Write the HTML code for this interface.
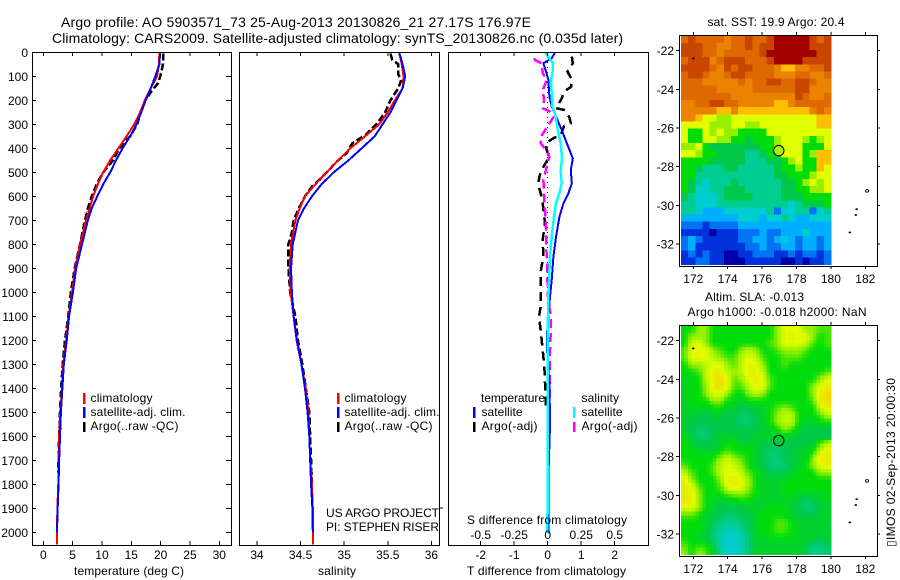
<!DOCTYPE html>
<html lang="en">
<head>
<meta charset="utf-8">
<title>Argo profile 5903571_73</title>
<style>
html,body{margin:0;padding:0;background:#fff;}
svg{display:block;}
text{font-family:"Liberation Sans",sans-serif;font-size:12px;fill:#000;}
.big{font-size:14px;}
</style>
</head>
<body>
<svg id="figure" xmlns="http://www.w3.org/2000/svg" width="900" height="580" viewBox="0 0 900 580">
<rect x="0" y="0" width="900" height="580" fill="#fff"/>
<text class="big" x="61" y="27" textLength="470">Argo profile: AO 5903571_73 25-Aug-2013 20130826_21 27.17S 176.97E</text>
<text class="big" x="52" y="43" textLength="571">Climatology: CARS2009. Satellite-adjusted climatology: synTS_20130826.nc (0.035d later)</text>

<g id="mapSst"></g>
<g id="mapSla"></g>
<g id="panelT"></g>
<g id="panelS"></g>
<g id="panelD"></g>

<text x="74" y="575" textLength="110">temperature (deg C)</text>
<text x="318" y="575" textLength="38">salinity</text>
<text x="467" y="575" textLength="159">T difference from climatology</text>
<text x="467" y="524" textLength="160">S difference from climatology</text>

<g>
<rect x="83" y="393" width="2.5" height="11" fill="#f00"/>
<rect x="83" y="407" width="2.5" height="11" fill="#00f"/>
<rect x="83" y="422" width="2.5" height="10" fill="#000"/>
<text x="90.5" y="402" textLength="62">climatology</text>
<text x="90.5" y="416" textLength="95">satellite-adj. clim.</text>
<text x="90.5" y="430" textLength="88">Argo(..raw -QC)</text>
</g>
<g>
<rect x="337" y="393" width="2.5" height="11" fill="#f00"/>
<rect x="337" y="407" width="2.5" height="11" fill="#00f"/>
<rect x="337" y="422" width="2.5" height="10" fill="#000"/>
<text x="344.5" y="402" textLength="62">climatology</text>
<text x="344.5" y="416" textLength="95">satellite-adj. clim.</text>
<text x="344.5" y="430" textLength="88">Argo(..raw -QC)</text>
</g>
<g>
<text x="481" y="402" textLength="64">temperature</text>
<rect x="473" y="407" width="2.5" height="11" fill="#00f"/>
<text x="481.5" y="416" textLength="41">satellite</text>
<rect x="473" y="422" width="2.5" height="10" fill="#000"/>
<text x="481.5" y="430" textLength="56">Argo(-adj)</text>
<text x="581.5" y="402" textLength="37.5">salinity</text>
<rect x="573" y="407" width="2.5" height="11" fill="#0ff"/>
<text x="581.5" y="416" textLength="41">satellite</text>
<rect x="573" y="422" width="2.5" height="10" fill="#f0f"/>
<text x="581.5" y="430" textLength="56">Argo(-adj)</text>
</g>

<text x="326" y="517" textLength="113">US ARGO PROJECT</text>
<text x="326" y="531" textLength="113">PI: STEPHEN RISER</text>
<line x1="439" x2="443" y1="508" y2="508" stroke="#000" stroke-width="1" shape-rendering="crispEdges"/>

<text x="707.5" y="26" textLength="137">sat. SST: 19.9 Argo: 20.4</text>
<text x="705" y="301" textLength="99">Altim. SLA: -0.013</text>
<text x="687.5" y="316" textLength="179">Argo h1000: -0.018 h2000: NaN</text>
<text transform="translate(895,547) rotate(-90)" x="0" y="0" textLength="169">▯IMOS 02-Sep-2013 20:00:30</text>
</svg>

<script>
// ---- profile data (depth in m, temperature in deg C, salinity in psu) ----
const stdDepth = [0,50,100,150,200,250,300,350,400,450,500,550,600,650,700,800,900,1000,1100,1200,1300,1400,1500,1600,1700,1800,1900,2000,2050];

const tempClim = [19.8,19.7,19.4,18.3,17.3,16.5,15.5,14.2,12.8,11.4,10.2,9.3,8.5,7.9,7.3,6.25,5.45,4.9,4.3,3.9,3.4,3.2,2.9,2.7,2.6,2.55,2.4,2.33,2.3];
const tempSat = [19.9,19.8,19.1,18.3,17.45,16.7,15.9,14.8,13.5,12.4,11.4,10.2,9.2,8.25,7.6,6.6,5.6,5.05,4.4,4,3.5,3.25,3,2.85,2.7,2.6,2.45,2.33];
const tempArgoDepth = [5,50,100,130,160,200,250,300,350,400,450,500,550,600,650,700,800,900,1000,1100,1200,1300,1400,1500,1600,1700,1750];
const tempArgo = [20.45,20.4,19.95,19.5,18.5,17.4,16.6,16,14.8,12.95,11.9,10.2,9.1,8.25,7.6,7.1,6.25,5.35,4.7,4.25,3.7,3.3,3.05,2.85,2.7,2.6,2.55];

const salClim = [35.63,35.66,35.68,35.67,35.58,35.5,35.40,35.24,35.07,34.93,34.8,34.67,34.55,34.49,34.44,34.39,34.375,34.385,34.42,34.46,34.51,34.56,34.59,34.6,34.61,34.63,34.64,34.645,34.645];
const salSat = [35.63,35.67,35.7,35.67,35.6,35.53,35.44,35.35,35.2,35.05,34.88,34.74,34.63,34.54,34.47,34.41,34.39,34.4,34.42,34.455,34.51,34.55,34.58,34.6,34.61,34.62,34.635,34.64];
const salArgoDepth = [5,30,50,90,120,150,200,250,300,340,380,420,450,500,530,560,600,650,700,750,800,900,1000,1100,1200,1300,1400,1500,1600,1700,1800];
const salArgo = [35.53,35.55,35.62,35.62,35.65,35.62,35.53,35.47,35.37,35.26,35.09,35.03,34.93,34.8,34.72,34.63,34.55,34.48,34.42,34.4,34.36,34.36,34.38,34.44,34.47,34.52,34.56,34.6,34.61,34.62,34.63];

const diffDepth = [0,25,46,80,115,185,226,268,324,379,442,490,546,587,629,685,768,851,949,1018,1171,1240,1379,1546,1726,2004];
const diffTSat = [0.22,0.12,-0.13,-0.05,0.02,0.05,0.12,0.25,0.42,0.57,0.75,0.69,0.72,0.62,0.47,0.35,0.25,0.17,0.12,0.07,-0.02,-0.02,0.05,0.07,0.03,0.03];
const diffSSat = [-0.02,0.012,0.04,0.037,0.025,0.03,0.035,0.06,0.075,0.097,0.107,0.097,0.104,0.087,0.062,0.047,0.03,0.017,0.01,0.005,0,0,0,0,0,-0.002];
const diffTArgoDepth = [18,46,80,115,143,164,192,233,240,271,296,307,344,358,379,400,435,490,518,553,587,629,712,782,851,907,962,1018,1060,1101,1171,1240,1310,1379,1476];
const diffTArgo = [0.72,0.75,0.59,0.72,0.70,0.49,0.42,0.25,0.49,0.65,0.69,0.49,0.39,0.17,-0.05,-0.05,0.05,-0.18,-0.25,-0.28,-0.21,-0.15,-0.08,-0.15,-0.13,-0.2,-0.21,-0.21,-0.21,-0.26,-0.2,-0.15,-0.1,-0.08,-0.05];
const diffSArgoDepth = [25,32,46,87,115,157,199,233,247,271,303,351,379,407,435,476,532,601,657,740,810,879,949,1018,1101,1171,1240,1379,1518,1629];
const diffSArgo = [-0.1,-0.095,-0.045,-0.037,-0.007,-0.037,-0.027,-0.037,0.017,0.042,0.005,-0.05,-0.052,-0.012,0.012,-0.007,-0.032,-0.027,-0.02,-0.012,-0.012,-0.002,-0.002,0.002,0.022,0.022,0.017,0.017,0.012,0.01];

// ---- axis ticks ----
const depthTicks = [0,100,200,300,400,500,600,700,800,900,1000,1100,1200,1300,1400,1500,1600,1700,1800,1900,2000];
const tempTicks = [0,5,10,15,20,25,30];
const salTicks = [34,34.5,35,35.5,36];
const diffTTicks = [-2,-1,0,1,2];
const diffSTicks = [-0.5,-0.25,0,0.25,0.5];
const lonTicks = [172,174,176,178,180,182];
const latTicks = [-22,-24,-26,-28,-30,-32];

// ---- map data: colour-scale level per grid cell, north to south ----
const sstGrid = [
[12,13,12,12,12,12,11,12,12,13,12,12,13,14,14,14,14,14,13,12,13],
[13,13,13,12,12,11,11,12,12,13,12,13,13,14,14,14,14,14,13,13,13],
[13,13,13,12,12,11,12,12,12,12,12,13,14,14,14,14,14,14,14,13,13],
[12,13,13,13,11,12,13,13,13,12,12,12,13,14,14,14,14,13,13,13,13],
[13,13,13,13,12,11,13,12,13,13,12,12,12,11,10,10,11,11,12,12,13],
[12,13,13,12,11,11,12,13,13,12,12,12,12,11,11,11,12,12,11,11,12],
[12,12,12,11,11,11,11,11,12,11,12,12,13,13,12,12,13,13,12,11,11],
[12,12,12,12,12,11,11,11,11,11,12,12,12,12,12,12,13,13,11,11,11],
[12,12,12,12,12,12,12,11,11,11,11,11,11,11,11,11,13,12,11,11,12],
[11,11,12,12,13,13,12,12,11,11,11,11,11,10,10,11,12,12,12,12,12],
[11,11,11,11,11,10,10,11,10,10,10,10,10,10,10,10,10,10,11,12,11],
[11,11,10,9,9,8,8,9,9,9,9,9,9,9,9,9,9,9,9,10,10],
[9,9,9,9,8,8,8,9,9,8,8,9,9,9,9,9,9,9,9,10,10],
[9,7,7,9,8,9,8,8,7,7,7,7,9,9,9,9,9,9,9,9,9],
[9,7,7,9,9,8,8,7,7,6,7,7,7,8,9,9,9,8,7,8,9],
[8,8,9,7,6,6,6,6,6,6,6,7,7,8,9,9,9,7,7,7,9],
[9,9,8,7,7,6,6,6,6,5,5,6,7,7,9,9,9,7,8,10,10],
[7,7,7,7,6,6,6,6,6,5,5,5,6,6,7,8,9,7,7,10,10],
[7,7,6,5,5,5,6,6,5,5,5,5,5,6,7,7,8,7,7,10,9],
[7,7,5,5,5,5,5,5,5,5,5,5,5,6,6,7,7,7,8,9,9],
[7,6,5,4,5,5,5,6,5,5,5,5,5,5,6,6,7,8,9,8,9],
[7,6,4,4,5,5,6,6,6,5,5,5,5,5,6,6,7,7,8,8,9],
[6,5,4,4,4,5,6,6,6,6,5,5,5,5,6,6,6,7,7,7,7],
[5,5,4,4,4,5,5,5,5,5,5,5,5,5,5,4,5,6,6,6,7],
[5,5,4,3,3,3,4,4,4,4,4,4,5,2,4,4,5,5,2,4,5],
[3,3,3,3,3,3,3,3,4,4,4,3,4,4,5,4,3,3,4,4,4],
[2,2,2,1,2,2,2,2,3,3,3,3,3,3,3,3,3,3,3,3,3],
[1,1,1,1,0,1,1,1,2,2,2,3,2,2,3,3,3,4,3,3,3],
[2,3,2,1,1,1,1,1,2,2,3,3,2,3,4,3,2,3,3,2,3],
[2,3,1,1,1,1,1,1,1,2,2,3,2,2,3,3,2,3,3,2,3],
[1,2,1,2,1,1,0,0,1,1,2,2,2,1,1,2,1,2,2,1,2],
[1,1,2,2,1,1,0,0,0,1,1,1,1,1,0,0,1,0,1,1,2]
];
const slaGrid = [
[7,7,8,8,7,7,7,7,7,7,7,7,7,8,9,9,9,8,8,7.5,7.5],
[7,8,8,8,7,7,7,7,7,7,7,7,7,8,9,9.3,9,9,8,7,7.5],
[7,8.5,9,8,7,7,7,7,7,7,7,7,7.5,8,9,9,9,8.5,7.5,7,7.5],
[7.5,9,9.3,9,8,7.5,7,7,8,8.5,8,7,7,7.5,8,8,8,7.5,7,7,7],
[7.5,9,9,9,8.5,8,7.5,7.5,8.5,9,8.5,7.5,7,7,7.5,7.5,7.5,7,7,7,7],
[7,8,8,8.5,9,9,8,7.5,8.5,9.3,9,8,7,7,7.5,7,7,7,7,7,7],
[7,7,7.5,8.5,9.3,9.3,8.5,8,8.5,9.3,9.3,8.5,7,7,7,7,7,7,7,7,7.5],
[6.5,7,7,8.5,9.3,9.6,9,7.5,8,9,9.3,9,7.5,7,7,7,7,7,7,8,9],
[6.5,7,7,8,9.3,9.6,9,7.5,7.5,8.5,9.3,9,7.5,7,7,7,7,7,8,9,9.3],
[6.5,7,7,8,9,9,8,7,7,8,8.5,8,7,7,7,7,7,7,8,9.3,9.6],
[6.5,7,7,7,8,8,7,7,6.5,7,7,7,7,7,7,7,7,7,7.5,9.3,9.6],
[6.5,6.5,7,6.5,7,7,6.5,6.5,6,6,6.5,6.5,7,7.5,8,7.5,7,7,7,8.5,9.3],
[6.5,6.5,6,6,6.5,6.5,6,6,5.5,5.5,6,6.5,7,8,8.5,8.5,7,7,7,7.5,8.5],
[6.5,6,6,6,6,6,6,6,5.5,5.5,6,6.5,7,8,8.5,8.5,7,6.5,6.5,7,7],
[6.5,6,5.5,5.5,6,6,6,6,6,6,6,6.5,6.5,7,8,7.5,6.5,6,6,6,6],
[7,6,5.5,5.5,6,6.5,6.5,6.5,6,6,6.5,6.5,6.5,6.5,6.5,6.5,6,6,6,6,6],
[7,6.5,6,6,6,6.5,7,7,6.5,6.5,6.5,6,6,6,6,6,6,6,6.5,7.5,8.5],
[7,7,6.5,6.5,6.5,7,7.5,7,7,7,6.5,6,5.5,5.5,6,6,6.5,6.5,7,8.5,9.3],
[7,7,7,7,7,8,8.5,8,7.5,7,6.5,6,5.5,5.5,6,6,6.5,6.5,8,9.3,9.3],
[7.5,7,7,7,7.5,8.5,9,8.5,8,7,6.5,6,5.5,5,5.5,6,6.5,7,8,9,9.3],
[8.5,7.5,7,7,7.5,8.5,9,9,8.5,7.5,7,6.5,6,6,6,6.5,7,7,7,8,8],
[9.3,8,7,7,7,8,9.3,9.3,9,8,7,6.5,6.5,6.5,6.5,7,7,7,7,7,7],
[9.3,9,7.5,7,7,7.5,9,9.3,9,8,7,6.5,6.5,6.5,7,7,7,7,7,7,7],
[9.3,9.3,8,7,7,7,7.5,8,8,7.5,7,6.5,6.5,6.5,7,7,6.5,6.5,6.5,6.5,7],
[9.3,9.3,8,7,6.5,6.5,6.5,6.5,7,7,6.5,6.5,6.5,6.5,6.5,6.5,6,5.5,6,6.5,6.5],
[9,9,8,7,6.5,6,6,6,6,6.5,6.5,6.5,7,7,7,6.5,6,5.5,5.5,6,6.5],
[7.5,7.5,7,6.5,6,6,5.5,5.5,6,6,6.5,7,7,7,7,6.5,6,6,6,6.5,6.5],
[7,7,7,6.5,6,5,5,5,5.5,6,6.5,7,7,7.5,7.5,7,6.5,6.5,6.5,6.5,6.5],
[7,7,7,6.5,5.5,5,4.5,4.5,5,6,6.5,7,7,7.5,7.5,7,6.5,6.5,6.5,6.5,6.5],
[7,7,6.5,6,5.5,4.5,4,4,4.5,5.5,6.5,6.5,7,7,7,7,6.5,6.5,6.5,6,6.5],
[7.5,7,7,7,6,4.5,4,3.8,4.5,5.5,6.5,6.5,6.5,6.5,6.5,6.5,6.5,6.5,5.5,5.5,6],
[8,7,8,7.5,6.5,5,4,4,4.5,5.5,6.5,6.5,6.5,6.5,6.5,6.5,6.5,6,5,5,5.5]
];
const islandLon = [172,182.1,181.5,181.45,181.1];
const islandLat = [-22.4,-29.25,-30.2,-30.5,-31.4];
const argoLon = 176.97;
const argoLat = -27.17;

// ---- axis functions ----
const depthY = d => 52.3 + d * 0.24;
const tempX = t => 43.3 + t * 5.867;
const salX = s => 257 + (s - 34) * 87.2;
const diffTX = t => 547.7 + t * 33.5;
const diffSX = s => 547.7 + s * 134;
const lonX = l => 693.3 + (l - 172) * 17.2;
const latY = (a, top) => top + 15.7 + (-22 - a) * 19.33;

const NS = 'http://www.w3.org/2000/svg';
function mk(tag, attrs, parent) {
  const el = document.createElementNS(NS, tag);
  for (const k in attrs) el.setAttribute(k, attrs[k]);
  parent.appendChild(el);
  return el;
}
function tickText(str, x, y, anchor, parent) {
  const el = mk('text', {x: x, y: y, 'text-anchor': anchor}, parent);
  el.textContent = str;
  return el;
}
function tickLine(x1, y1, x2, y2, parent) {
  return mk('line', {x1: x1, y1: y1, x2: x2, y2: y2, stroke: '#000', 'stroke-width': 1, 'shape-rendering': 'crispEdges'}, parent);
}
function frame(x, y, w, h, parent) {
  return mk('rect', {x: x + 0.5, y: y + 0.5, width: w, height: h, fill: 'none', stroke: '#000', 'stroke-width': 1.2, 'shape-rendering': 'crispEdges'}, parent);
}
function profile(depths, values, xf, color, width, dash, parent) {
  const n = Math.min(depths.length, values.length);
  const pts = [];
  for (let i = 0; i < n; i++) pts.push(xf(values[i]).toFixed(2) + ',' + depthY(depths[i]).toFixed(2));
  const attrs = {points: pts.join(' '), fill: 'none', stroke: color, 'stroke-width': width, 'shape-rendering': 'crispEdges'};
  if (dash) attrs['stroke-dasharray'] = dash;
  return mk('polyline', attrs, parent);
}

const colorStops = [[0,0,170],[0,50,220],[0,115,245],[0,175,255],[0,205,205],[0,205,145],[0,200,75],[0,220,10],[150,240,0],[225,255,0],[255,190,0],[235,130,0],[222,105,0],[200,70,0],[165,0,0]];
function levelColor(v) {
  const c = Math.max(0, Math.min(colorStops.length - 1, v));
  const i = Math.min(colorStops.length - 2, Math.floor(c));
  const f = c - i;
  const a = colorStops[i], b = colorStops[i + 1];
  return 'rgb(' + [0, 1, 2].map(k => Math.round(a[k] + (b[k] - a[k]) * f)).join(',') + ')';
}

// ---- temperature panel ----
const panelT = document.getElementById('panelT');
let el;
el = profile(tempArgoDepth, tempArgo, tempX, '#000', 2.5, '7 3', panelT);


el = profile(stdDepth, tempClim, tempX, '#f00', 2, null, panelT);


el = profile(stdDepth, tempSat, tempX, '#00f', 2, null, panelT);


el = frame(32, 52, 199, 493, panelT);


depthTicks.forEach(d => {
  let t = tickText(String(d), 28, depthY(d) + 4.5, 'end', panelT);
  
  
  t = tickLine(32, depthY(d), 36, depthY(d), panelT);
  
  
  t = tickLine(226, depthY(d), 231, depthY(d), panelT);
  
  
});
tempTicks.forEach(v => {
  let t = tickText(String(v), tempX(v), 559, 'middle', panelT);
  
  
  t = tickLine(tempX(v), 52, tempX(v), 56, panelT);
  
  
  t = tickLine(tempX(v), 541, tempX(v), 545, panelT);
  
  
});

// ---- salinity panel ----
const panelS = document.getElementById('panelS');
el = profile(salArgoDepth, salArgo, salX, '#000', 2.5, '7 3', panelS);


el = profile(stdDepth, salClim, salX, '#f00', 2, null, panelS);


el = profile(stdDepth, salSat, salX, '#00f', 2, null, panelS);


el = frame(239, 52, 200, 493, panelS);


salTicks.forEach(v => {
  let t = tickText(String(v), salX(v), 559, 'middle', panelS);
  
  
  t = tickLine(salX(v), 52, salX(v), 56, panelS);
  
  
  t = tickLine(salX(v), 541, salX(v), 545, panelS);
  
  
});

// ---- difference panel ----
const panelD = document.getElementById('panelD');
el = mk('line', {x1: diffTX(0), y1: 52, x2: diffTX(0), y2: 410, stroke: '#000', 'stroke-width': 1, 'stroke-dasharray': '1 4', 'shape-rendering': 'crispEdges'}, panelD);


el = profile(diffTArgoDepth, diffTArgo, diffTX, '#000', 2.5, '9 6', panelD);


el = profile(diffSArgoDepth, diffSArgo, diffSX, '#f0f', 2.5, '9 5', panelD);


el = profile(diffDepth, diffTSat, diffTX, '#00f', 2, null, panelD);


el = profile(diffDepth, diffSSat, diffSX, '#0ff', 2.5, null, panelD);


el = frame(448, 52, 200, 493, panelD);


diffTTicks.forEach(v => {
  let t = tickText(String(v), diffTX(v), 559, 'middle', panelD);
  
  
  t = tickLine(diffTX(v), 52, diffTX(v), 56, panelD);
  
  
  t = tickLine(diffTX(v), 541, diffTX(v), 545, panelD);
  
  
});
diffSTicks.forEach(v => {
  const t = tickText(String(v), diffSX(v), 539, 'middle', panelD);
  
  
});

// ---- maps ----
// Shading of a cell's sub-square: blends the cell with its neighbours (display smoothing only).
function shade(grid, r, c) {
  const rows = grid.length, cols = grid[0].length;
  const r0 = Math.max(0, Math.min(rows - 1, Math.floor(r))), r1 = Math.max(0, Math.min(rows - 1, Math.floor(r) + 1));
  const c0 = Math.max(0, Math.min(cols - 1, Math.floor(c))), c1 = Math.max(0, Math.min(cols - 1, Math.floor(c) + 1));
  const fr = r - Math.floor(r), fc = c - Math.floor(c);
  return (grid[r0][c0] * (1 - fc) + grid[r0][c1] * fc) * (1 - fr) + (grid[r1][c0] * (1 - fc) + grid[r1][c1] * fc) * fr;
}
function drawMap(group, grid, top, markerFill, sub) {
  const west = 171.285, east = 180, north = -21.22, south = -33.07;
  const rows = grid.length;
  const cols = grid[0].length;
  const dLon = (east - west) / (cols * sub);
  const dLat = (north - south) / (rows * sub);
  for (let r = 0; r < rows * sub; r++) {
    for (let c = 0; c < cols * sub; c++) {
      const v = sub === 1 ? grid[r][c] : shade(grid, (r + 0.5) / sub - 0.5, (c + 0.5) / sub - 0.5);
      const x0 = lonX(west + c * dLon);
      const x1 = lonX(west + (c + 1) * dLon);
      const y0 = latY(north - r * dLat, top);
      const y1 = latY(north - (r + 1) * dLat, top);
      const cell = mk('rect', {x: x0.toFixed(2), y: y0.toFixed(2), width: (x1 - x0 + 0.4).toFixed(2), height: (y1 - y0 + 0.4).toFixed(2), fill: levelColor(v), 'shape-rendering': 'crispEdges'}, group);
      
      
    }
  }
  islandLon.forEach((lon, i) => {
    const isl = mk('ellipse', {cx: lonX(lon), cy: latY(islandLat[i], top), rx: i === 1 ? 1.6 : 1.2, ry: i === 1 ? 1.3 : 0.8, fill: i === 1 ? 'none' : '#000', stroke: '#000', 'stroke-width': i === 1 ? 0.9 : 0.3}, group);
    
    
  });
  const fr = frame(679, top, 198, 231, group);
  
  
  lonTicks.forEach(v => {
    const x = lonX(v);
    let t = tickText(String(v), x, top + 248, 'middle', group);
    
    
    t = tickLine(x, top - 3, x, top, group);
    
    
    t = tickLine(x, top + 231, x, top + 234, group);
    
    
  });
  latTicks.forEach(v => {
    const y = latY(v, top);
    let t = tickText(String(v), 674, y + 4.5, 'end', group);
    
    
    t = tickLine(676, y, 679, y, group);
    
    
    t = tickLine(877, y, 880, y, group);
    
    
  });
  const m = mk('circle', {cx: lonX(argoLon), cy: latY(argoLat, top), r: 5.2, fill: markerFill, stroke: '#000', 'stroke-width': 1}, group);
  
  
}
drawMap(document.getElementById('mapSst'), sstGrid, 35, 'rgb(175,240,0)', 1);
drawMap(document.getElementById('mapSla'), slaGrid, 325, 'none', 2);
</script>
</body>
</html>
